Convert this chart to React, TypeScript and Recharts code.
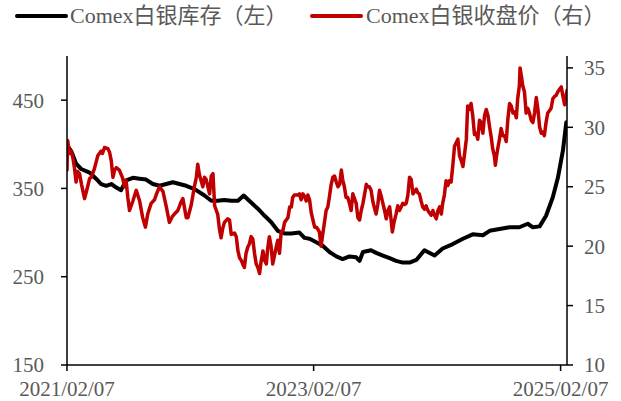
import React from 'react';
import { LineChart, Line, XAxis, YAxis, Legend } from 'recharts';

const FONT = '"Times New Roman", "Liberation Serif", "Noto Sans CJK SC", serif';
const TEXT_COLOR = '#595959';

// days since 2021/02/07
const stockDays = [
  0, 2, 13, 27, 42, 67, 86, 101, 116, 131, 146, 160, 175, 195, 215, 234, 254, 274, 294, 313,
  333, 353, 379, 407, 427, 446, 466, 486, 506, 523, 545, 565, 585, 604, 624, 644, 664, 688, 703, 718,
  738, 757, 777, 797, 816, 836, 856, 866, 876, 900, 915, 935, 955, 974, 994, 1014, 1034, 1058, 1088, 1112,
  1142, 1172, 1201, 1231, 1251, 1280, 1310, 1339, 1364, 1379, 1399, 1418, 1438, 1453, 1468, 1478,
];
const stockValues = [
  396, 398, 392, 378, 372, 368, 361, 355, 353, 355, 351, 348, 359, 362, 361, 360, 355, 353, 355, 357,
  355, 353, 349, 342, 336, 336, 337, 336, 336, 342, 334, 327, 319, 312, 302, 299, 299, 300, 294, 293,
  289, 285, 278, 273, 270, 273, 272, 268, 278, 280, 277, 274, 271, 268, 266, 266, 269, 280, 274, 282,
  287, 293, 298, 297, 302, 304, 306, 306, 310, 306, 307, 319, 340, 362, 393, 425,
];

const priceDays = [
  0, 2, 7, 12, 17, 22, 27, 31, 37, 43, 52, 62, 67, 72, 81, 91, 101, 105, 111, 121,
  126, 131, 136, 141, 146, 155, 165, 170, 175, 180, 185, 195, 205, 215, 224, 232, 239, 249, 259, 265,
  274, 284, 294, 303, 312, 318, 328, 336, 343, 353, 358, 368, 377, 383, 387, 392, 397, 402, 407, 412,
  417, 422, 427, 432, 437, 442, 446, 451, 456, 461, 466, 476, 481, 486, 496, 501, 506, 511, 516, 520,
  525, 530, 535, 540, 545, 550, 555, 560, 565, 570, 574, 580, 585, 590, 594, 599, 604, 609, 614, 619,
  624, 629, 634, 639, 644, 649, 654, 659, 664, 668, 673, 683, 688, 693, 698, 703, 708, 713, 718, 723,
  728, 733, 738, 743, 747, 752, 757, 762, 767, 772, 777, 782, 787, 792, 797, 802, 807, 812, 816, 821,
  826, 831, 836, 841, 846, 851, 856, 861, 866, 871, 876, 881, 886, 890, 895, 900, 905, 910, 915, 920,
  925, 930, 935, 940, 945, 950, 955, 959, 963, 968, 974, 979, 984, 989, 994, 999, 1004, 1009, 1014, 1019,
  1024, 1029, 1034, 1038, 1043, 1048, 1053, 1058, 1063, 1068, 1073, 1078, 1083, 1088, 1093, 1098, 1103, 1108, 1112, 1117,
  1122, 1127, 1132, 1137, 1142, 1147, 1152, 1157, 1162, 1167, 1172, 1177, 1182, 1186, 1191, 1196, 1201, 1206, 1211, 1216,
  1221, 1226, 1231, 1236, 1241, 1246, 1251, 1256, 1260, 1265, 1268, 1271, 1275, 1280, 1285, 1290, 1295, 1300, 1305, 1310,
  1315, 1320, 1325, 1330, 1334, 1339, 1341, 1345, 1349, 1354, 1359, 1364, 1369, 1374, 1379, 1384, 1389, 1394, 1399, 1404,
  1408, 1413, 1418, 1423, 1428, 1433, 1438, 1443, 1448, 1453, 1458, 1463, 1468, 1473, 1478, 1480,
];
const priceValues = [
  26.4, 28.9, 27.8, 28.0, 27.5, 26.6, 25.4, 26.3, 26.1, 25.2, 24.0, 25.1, 25.7, 25.8, 26.5, 27.6, 28.0, 27.8, 28.3, 28.2,
  27.9, 27.2, 25.8, 26.4, 26.6, 26.4, 25.7, 25.0, 25.5, 24.1, 23.0, 23.8, 24.7, 23.8, 22.4, 21.6, 22.7, 23.6, 23.9, 24.4,
  25.0, 24.6, 23.3, 22.0, 22.5, 22.7, 23.0, 23.6, 24.0, 22.4, 22.4, 23.5, 25.0, 25.8, 26.9, 26.0, 25.5, 25.0, 25.8, 25.6,
  25.0, 24.4, 25.9, 26.1, 23.4, 23.0, 22.7, 21.5, 20.7, 21.5, 22.0, 22.3, 22.2, 21.0, 21.1, 20.8, 19.6, 19.0, 18.8, 18.5,
  18.2, 19.4, 19.9, 20.2, 20.8, 20.6, 19.4, 18.5, 18.2, 17.7, 18.6, 19.6, 18.8, 18.5, 19.8, 20.8, 20.0, 18.5, 19.2, 19.9,
  20.5, 19.4, 21.2, 21.3, 22.0, 22.2, 22.4, 23.3, 23.3, 24.1, 24.3, 24.3, 24.4, 23.9, 24.4, 24.2, 23.8, 24.3, 23.9, 22.8,
  22.2, 21.6, 21.6, 21.4, 21.2, 20.0, 21.0, 22.0, 23.0, 23.3, 24.2, 25.2, 25.8, 25.9, 25.4, 25.0, 25.2, 26.4, 25.6, 25.0,
  24.1, 24.1, 23.6, 23.0, 24.4, 24.0, 23.6, 22.4, 22.2, 23.0, 23.6, 24.4, 25.2, 25.0, 25.0, 24.7, 23.8, 23.2, 22.7, 23.5,
  24.7, 24.2, 23.6, 23.0, 22.3, 23.0, 23.3, 22.3, 21.2, 22.0, 22.7, 23.4, 23.0, 23.3, 23.6, 23.5, 23.6, 24.3, 25.8, 25.6,
  24.4, 24.6, 24.8, 24.5, 24.4, 23.8, 23.3, 23.1, 23.4, 23.0, 22.8, 22.6, 23.0, 22.6, 22.3, 23.0, 23.3, 22.7, 23.6, 24.3,
  25.5, 25.1, 25.5, 25.4, 26.8, 28.4, 28.7, 29.0, 27.6, 27.2, 26.7, 27.8, 29.0, 31.8, 31.5, 32.0, 31.0, 29.4, 29.5, 29.0,
  30.6, 30.4, 29.5, 31.0, 31.5, 31.0, 30.0, 29.1, 28.2, 27.6, 26.8, 27.5, 28.2, 29.0, 29.9, 29.3, 29.3, 28.8, 30.7, 32.0,
  31.8, 31.2, 31.3, 30.8, 32.4, 33.5, 35.0, 34.3, 33.5, 33.0, 31.2, 31.6, 31.2, 30.6, 30.4, 31.2, 32.5, 31.5, 30.0, 29.5,
  29.6, 29.3, 30.4, 31.2, 31.4, 31.6, 32.4, 32.6, 32.7, 33.0, 33.2, 33.4, 32.6, 31.9, 32.8, 33.1,
];

const xTicks = [0, 730, 1461];
const leftTicks = [150, 250, 350, 450];
const rightTicks = [10, 15, 20, 25, 30, 35];
const stockLabel = 'Comex白银库存（左）';
const priceLabel = 'Comex白银收盘价（右）';

const stockData = stockDays.map((d, i) => ({ d, stock: stockValues[i] }));
const priceData = priceDays.map((d, i) => ({ d, price: priceValues[i] }));

const BASE = Date.UTC(2021, 1, 7);
const fmtDate = (d: number) => {
  const dt = new Date(BASE + d * 86400000);
  const mm = String(dt.getUTCMonth() + 1).padStart(2, '0');
  const dd = String(dt.getUTCDate()).padStart(2, '0');
  return `${dt.getUTCFullYear()}/${mm}/${dd}`;
};

const renderLegend = () => (
  <div style={{ position: 'relative', width: 621, height: 36, fontFamily: FONT, fontSize: 22, color: TEXT_COLOR }}>
    <span style={{ position: 'absolute', left: 15, top: 14, width: 53, height: 4, background: '#000000', borderRadius: 2 }} />
    <span style={{ position: 'absolute', left: 70, top: 2, lineHeight: '28px', whiteSpace: 'nowrap' }}>{stockLabel}</span>
    <span style={{ position: 'absolute', left: 310, top: 14, width: 53, height: 4, background: '#C00000', borderRadius: 2 }} />
    <span style={{ position: 'absolute', left: 366, top: 2, lineHeight: '28px', whiteSpace: 'nowrap' }}>{priceLabel}</span>
  </div>
);

const tickStyle = { fill: TEXT_COLOR, fontSize: 21, fontFamily: FONT };
const axisLine = { stroke: '#000000', strokeWidth: 1.5 };

export default function App() {
  return (
    <div style={{ position: 'absolute', left: 0, top: 0, width: 621, height: 401, background: '#fff' }}>
      <LineChart width={621} height={401} margin={{ top: 20, right: 0, bottom: 0, left: 0 }}>
        <Legend
          verticalAlign="top"
          content={renderLegend}
          wrapperStyle={{ position: 'absolute', top: 0, left: 0, width: 621, height: 36 }}
        />
        <XAxis
          type="number"
          dataKey="d"
          domain={[0, 1480]}
          ticks={xTicks}
          tickFormatter={fmtDate}
          allowDataOverflow
          height={36}
          tick={tickStyle}
          tickSize={6}
          tickMargin={10}
          axisLine={axisLine}
          tickLine={axisLine}
          interval={0}
        />
        <YAxis
          yAxisId="left"
          orientation="left"
          domain={[150, 500]}
          ticks={leftTicks}
          width={67}
          tick={tickStyle}
          tickSize={6}
          tickMargin={17}
          axisLine={axisLine}
          tickLine={axisLine}
          allowDataOverflow
        />
        <YAxis
          yAxisId="right"
          orientation="right"
          domain={[10, 36]}
          ticks={rightTicks}
          width={54}
          tick={tickStyle}
          tickSize={6}
          tickMargin={11}
          axisLine={axisLine}
          tickLine={axisLine}
          allowDataOverflow
        />
        <Line
          yAxisId="left"
          data={stockData}
          dataKey="stock"
          type="linear"
          stroke="#000000"
          strokeWidth={4}
          dot={false}
          strokeLinejoin="round"
          strokeLinecap="round"
          isAnimationActive={false}
        />
        <Line
          yAxisId="right"
          data={priceData}
          dataKey="price"
          type="linear"
          stroke="#C00000"
          strokeWidth={3.5}
          dot={false}
          strokeLinejoin="round"
          strokeLinecap="round"
          isAnimationActive={false}
        />
      </LineChart>
    </div>
  );
}
